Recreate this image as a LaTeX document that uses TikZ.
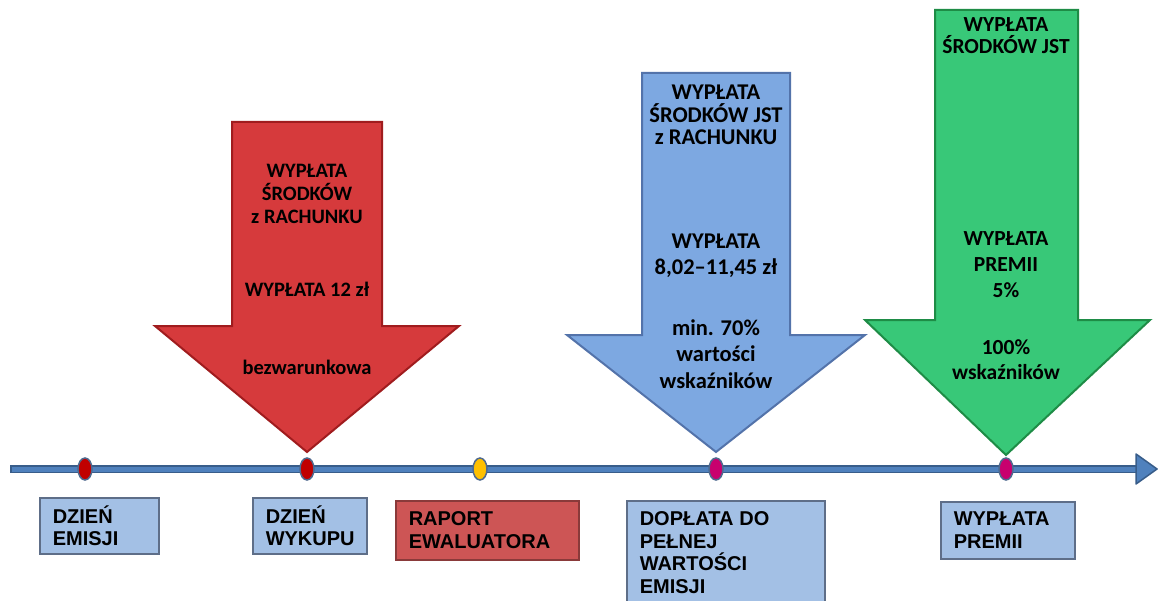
\documentclass[tikz,border=0pt]{standalone}
\usepackage{fontspec}
\setmainfont{Carlito}
\newfontfamily\boxfont{Liberation Sans}
\usetikzlibrary{shapes.geometric}
\definecolor{redfill}{HTML}{D63A3C}
\definecolor{rededge}{HTML}{A01C1E}
\definecolor{bluefill}{HTML}{7DA8E1}
\definecolor{blueedge}{HTML}{5373AA}
\definecolor{greenfill}{HTML}{38C878}
\definecolor{greenedge}{HTML}{1E8C46}
\definecolor{boxblue}{HTML}{A3C0E5}
\definecolor{boxedge}{HTML}{5E6E88}
\definecolor{boxred}{HTML}{CD5555}
\definecolor{boxrededge}{HTML}{8A3A3A}
\definecolor{lineblue}{HTML}{4F81BD}
\definecolor{lineedge}{HTML}{385D8A}
\definecolor{dotred}{HTML}{C00000}
\definecolor{dotyellow}{HTML}{FFC000}
\definecolor{dotmag}{HTML}{C8006E}
\definecolor{dotedge}{HTML}{4F6A8F}

\begin{document}
\begin{tikzpicture}[x=1pt,y=-1pt,
pay/.style={%
line width=2pt,
line join=miter
},
paytext/.style args={#1/#2}{%
align=center,
font=\bfseries\fontsize{#1}{#2}\selectfont
},
event/.style={%
anchor=north west,
draw=boxedge,
fill=boxblue,
line width=1.5pt,
align=left,
inner xsep=13pt,
inner ysep=0pt,
font=\boxfont\bfseries\fontsize{20}{22.5}\selectfont
},
evdot/.style={%
ellipse,
draw=dotedge,
line width=1.5pt,
minimum width=14pt,
minimum height=22pt,
inner sep=0pt
},
]
\path[use as bounding box,fill=white](0,0)rectangle(1158,601);
%% Payment arrows
\draw[pay,fill=redfill,draw=rededge](232,122)--(382,122)--(382,326)--(459,326)
--(307,452)--(155,326)--(232,326)--cycle;
\draw[pay,fill=bluefill,draw=blueedge](642,73)--(790,73)--(790,335)--(865,335)
--(716,452)--(567,335)--(642,335)--cycle;
\draw[pay,fill=greenfill,draw=greenedge](935,10)--(1078,10)--(1078,320)--(1150,320)
--(1006,455)--(865,320)--(935,320)--cycle;
\node[paytext=20.5/23](rt1)at(307,194){WYPŁATA\\ŚRODKÓW\\z RACHUNKU};
\node[paytext=20.5/23](rt2)at(307,289){WYPŁATA 12 zł};
\node[paytext=20.5/23](rt3)at(307,367){bezwarunkowa};
\node[paytext=22.5/22.5](bt1)at(716,115){WYPŁATA\\ŚRODKÓW JST\\z RACHUNKU};
\node[paytext=22.5/26](bt2)at(716,256){WYPŁATA\\8,02–11,45 zł};
\node[paytext=22.5/26.5](bt3)at(716,354){min. 70\%\\wartości\\wskaźników};
\node[paytext=21.5/22](gt1)at(1006,36){WYPŁATA\\ŚRODKÓW JST};
\node[paytext=21.5/26](gt2)at(1006,265){WYPŁATA\\PREMII\\5\%};
\node[paytext=21.5/25](gt3)at(1006,360){100\%\\wskaźników};
%% Timeline
\coordinate(tstart)at(10,469);
\coordinate(tend)at(1136,469);
\coordinate(ttip)at(1157,469);
\draw[line width=8pt,draw=lineedge](tstart)--(tend);
\draw[line width=5pt,draw=lineblue]([xshift=1.5pt]tstart)--(tend);
\draw[fill=lineblue,draw=lineedge,line width=1.5pt,line join=round]
([yshift=15pt]tend)--(ttip)--([yshift=-15pt]tend)--cycle;
\foreach \x/\c/\n in {85/dotred/d1,307/dotred/d2,480/dotyellow/d3,716/dotmag/d4,1006/dotmag/d5}{%
\node[evdot,fill=\c](\n)at(\x,469){};
}
%% Events
\node[event,text width=93pt,minimum height=56pt](emisja)at(39,497){DZIEŃ\\EMISJI};
\node[event,text width=88pt,minimum height=56pt](wykup)at(252,497){DZIEŃ\\WYKUPU};
\node[event,text width=157pt,minimum height=59pt,fill=boxred,draw=boxrededge](raport)at(395,500){RAPORT\\EWALUATORA};
\node[event,text width=172pt,minimum height=104pt](doplata)at(626,500){DOPŁATA\hspace{6pt}DO\\PEŁNEJ\\WARTOŚCI\\EMISJI};
\node[event,text width=108pt,minimum height=57pt](premia)at(940,501){WYPŁATA\\PREMII};
\end{tikzpicture}
\end{document}
